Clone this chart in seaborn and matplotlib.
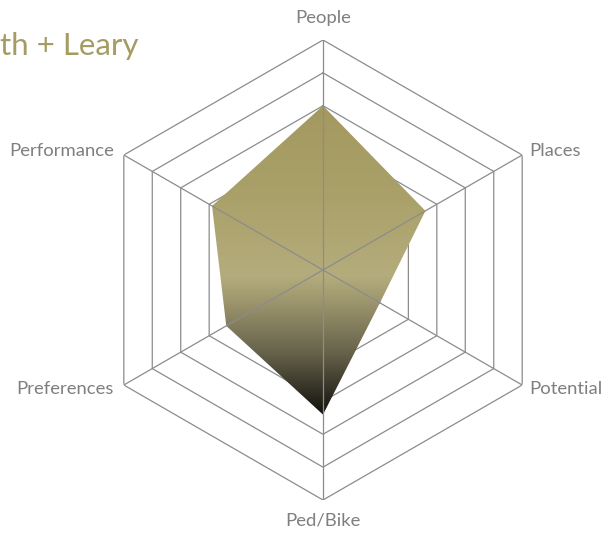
import numpy as np
import pandas as pd
import seaborn as sns
import matplotlib.pyplot as plt
from matplotlib.colors import LinearSegmentedColormap

# categories round the radar, clockwise from the top
categories = ['People', 'Places', 'Potential', 'Ped/Bike', 'Preferences', 'Performance']
# scores (scale 0 - 7)
scores = [5.0, 3.6, 2.0, 4.4, 3.4, 3.9]
rings = [1, 2, 3, 4, 5, 6, 7]
title = 'th + Leary'

sns.set_theme(style='white')
plt.rcParams['font.family'] = ['Lato', 'DejaVu Sans']

df = pd.DataFrame({'category': categories, 'score': scores})
df['angle'] = np.arange(len(df)) * 2 * np.pi / len(df)

fig = plt.figure(figsize=(6.15, 5.33), dpi=100)
pos = [93 / 615, 33 / 533, 460 / 615, 460 / 533]
grid_col = '#8c8c8c'
closed = np.append(df['angle'].values, df['angle'].values[0])


def radar_axes(z):
    a = fig.add_axes(pos, projection='polar', zorder=z)
    a.patch.set_alpha(0)
    a.set_theta_offset(np.pi / 2)
    a.set_theta_direction(-1)
    a.set_ylim(0, max(rings))
    a.set_xticks([])
    a.set_yticks([])
    a.grid(False)
    a.spines['polar'].set_visible(False)
    return a


# bottom layer: hexagon rings (hidden under the fill)
ax_rings = radar_axes(0)
for r in rings:
    ax_rings.plot(closed, [r] * len(closed), color=grid_col, lw=0.9)

# middle layer: gradient image (pixel coords)
bg = fig.add_axes([0, 0, 1, 1], zorder=1)
bg.patch.set_alpha(0)
bg.set_xlim(0, fig.bbox.width)
bg.set_ylim(0, fig.bbox.height)
bg.axis('off')

# top layer: spokes and the data shape
ax = radar_axes(2)
for a in df['angle']:
    ax.plot([a, a], [0, max(rings)], color=grid_col, lw=0.9)

vals = np.append(df['score'].values, df['score'].values[0])
shape = ax.fill(closed, vals, facecolor='none', edgecolor='none')[0]

fig.canvas.draw()
bb = shape.get_window_extent()
cmap = LinearSegmentedColormap.from_list('fill', [
    (0.0, '#a39960'),
    (0.3, '#aaa16a'),
    (0.55, '#b4ac7c'),
    (0.62, '#a19a70'),
    (0.8, '#66624a'),
    (1.0, '#12110c'),
])
grad = np.linspace(0, 1, 256).reshape(-1, 1)
im = bg.imshow(grad, cmap=cmap, aspect='auto', origin='upper',
               extent=[bb.x0, bb.x1, bb.y0, bb.y1], interpolation='bilinear')
im.set_clip_path(shape)

# labels
label_col = '#7f7f7f'
offsets = {
    'People': (0, 16, 'center', 'center'),
    'Places': (5, 3, 'left', 'center'),
    'Potential': (5, -3, 'left', 'center'),
    'Ped/Bike': (0, -15, 'center', 'center'),
    'Preferences': (-7, -3, 'right', 'center'),
    'Performance': (-7, 3, 'right', 'center'),
}
for _, row in df.iterrows():
    dx, dy, ha, va = offsets[row['category']]
    ax.annotate(row['category'], xy=(row['angle'], max(rings)), xytext=(dx, dy),
                textcoords='offset points', ha=ha, va=va, fontsize=13.3,
                color=label_col, annotation_clip=False)

fig.text(0.0, 1 - 55 / 533, title, fontsize=22.5, color='#a59c63',
         ha='left', va='baseline')

fig.savefig('out.png', dpi=100)
